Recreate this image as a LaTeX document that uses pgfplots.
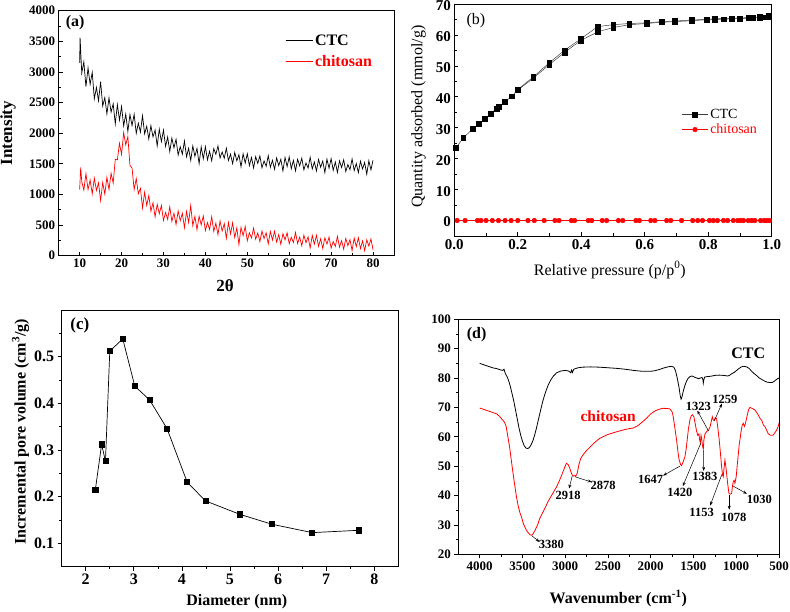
\documentclass[border=0pt]{standalone}
\usepackage{fontspec}
\setmainfont{Liberation Serif}
\usepackage{pgfplots}
\pgfplotsset{compat=1.18}
\usetikzlibrary{arrows.meta}
\newcommand{\fs}[1]{\fontsize{#1pt}{#1pt}\selectfont}
\pgfplotsset{
  base/.style={scale only axis, anchor=south west,
    /pgf/number format/assume math mode=true,
    /pgf/number format/1000 sep={},
    scaled ticks=false,
    axis line style={line width=0.8pt},
    every tick/.style={black, line width=0.7pt},
    major tick length=4pt, minor tick length=2.5pt,
    xtick pos=bottom, ytick pos=left,
  },
}
\begin{document}
\begin{tikzpicture}
\useasboundingbox (0pt,0pt) rectangle (790pt,612pt);
% ---------------- (a)
\begin{axis}[base, at={(58.7pt,356.3pt)}, width=335.3pt, height=245pt,
 xmin=5,xmax=85,ymin=0,ymax=4000,
 xtick={10,20,...,80}, minor x tick num=1,
 ytick={0,500,...,4000}, minor y tick num=1,
 tick align=inside,
 tick label style={font=\bfseries\fs{13}},
 xlabel={2θ}, ylabel={Intensity},
 label style={font=\bfseries\fs{17}},
 xlabel style={at={(axis description cs:0.496,-0.122)},anchor=center},
 ylabel style={at={(axis description cs:-0.151,0.5)},anchor=center},
 legend style={draw=none, fill=none, at={(0.675,0.912)}, anchor=north west, font=\bfseries\fs{16}, row sep=5pt, inner sep=0pt},
 legend cell align=left,
 legend image code/.code={\draw[#1, line width=0.8pt] (0pt,0pt) -- (27pt,0pt);},
]
\addplot[black, line width=0.7pt] coordinates {(10,3150) (10.1,3560) (10.5,2982) (11,3165) (11.5,2759) (12,3067) (12.5,2797) (13,2994) (13.5,2561) (14,2747) (14.5,2529) (15,2841) (15.5,2444) (16,2581) (16.5,2315) (17,2577) (17.5,2344) (18,2479) (18.5,2152) (19,2468) (19.5,2212) (20,2435) (20.5,2118) (21,2312) (21.5,2028) (22,2305) (22.5,2125) (23,2308) (23.5,1996) (24,2163) (24.5,2019) (25,2286) (25.5,1990) (26,2114) (26.5,1905) (27,2123) (27.5,1939) (28,2051) (28.5,1793) (29,2064) (29.5,1862) (30,2050) (30.5,1785) (31,1937) (31.5,1700) (32,1919) (32.5,1762) (33,1901) (33.5,1643) (34,1780) (34.5,1657) (35,1873) (35.5,1615) (36,1752) (36.5,1555) (37,1791) (37.5,1622) (38,1751) (38.5,1501) (39,1777) (39.5,1582) (40,1780) (40.5,1564) (41,1707) (41.5,1549) (42,1748) (42.5,1656) (43,1792) (43.5,1595) (44,1693) (44.5,1592) (45,1755) (45.5,1554) (46,1658) (46.5,1503) (47,1684) (47.5,1550) (48,1648) (48.5,1452) (49,1664) (49.5,1512) (50,1665) (50.5,1471) (51,1604) (51.5,1431) (52,1617) (52.5,1507) (53,1630) (53.5,1435) (54,1547) (54.5,1459) (55,1634) (55.5,1443) (56,1558) (56.5,1410) (57,1597) (57.5,1470) (58,1574) (58.5,1384) (59,1604) (59.5,1455) (60,1612) (60.5,1421) (61,1557) (61.5,1386) (62,1574) (62.5,1467) (63,1592) (63.5,1401) (64,1515) (64.5,1430) (65,1607) (65.5,1416) (66,1531) (66.5,1383) (67,1571) (67.5,1443) (68,1547) (68.5,1357) (69,1577) (69.5,1428) (70,1585) (70.5,1394) (71,1530) (71.5,1359) (72,1548) (72.5,1440) (73,1565) (73.5,1374) (74,1488) (74.5,1403) (75,1580) (75.5,1389) (76,1504) (76.5,1356) (77,1544) (77.5,1417) (78,1520) (78.5,1330) (79,1550) (79.5,1401) (80,1558)};
\addlegendentry{CTC}
\addplot[red, line width=0.7pt] coordinates {(10,1080) (10.25,1440) (10.5,1210) (11,1070) (11.5,1340) (12,1080) (12.5,1235) (13,1010) (13.5,1265) (14,1065) (14.5,1190) (15,900) (15.5,1195) (16,1005) (16.5,1280) (17,1080) (17.5,1345) (18,1185) (18.5,1575) (19,1565) (19.5,1835) (20,1655) (20.5,2010) (21,1810) (21.5,1945) (22,1475) (22.5,1430) (23,1080) (23.5,1260) (24,1010) (24.5,1100) (25,780) (25.5,1035) (26,821) (26.5,983) (27,726) (27.5,864) (28,634) (28.5,840) (29,686) (29.5,820) (30,575) (30.5,706) (31,593) (31.5,801) (32,560) (32.5,694) (33,509) (33.5,732) (34,571) (34.5,692) (35,457) (35.5,722) (36,541) (36.5,820) (37,488) (37.5,642) (38,425) (38.5,645) (39,504) (39.5,648) (40,410) (40.5,541) (41,428) (41.5,637) (42,398) (42.5,531) (43,345) (43.5,566) (44,404) (44.5,523) (45,284) (45.5,543) (46,355) (46.5,538) (47,298) (47.5,455) (48,180) (48.5,464) (49,327) (49.5,477) (50,243) (50.5,373) (51,289) (51.5,451) (52,269) (52.5,372) (53,230) (53.5,401) (54,280) (54.5,373) (55,193) (55.5,395) (56,256) (56.5,400) (57,221) (57.5,345) (58,186) (58.5,360) (59,258) (59.5,374) (60,195) (60.5,299) (61,216) (61.5,379) (62,199) (62.5,303) (63,162) (63.5,334) (64,213) (64.5,308) (65,128) (65.5,330) (66,189) (66.5,333) (67,154) (67.5,277) (68,117) (68.5,291) (69,188) (69.5,303) (70,124) (70.5,231) (71,151) (71.5,317) (72,139) (72.5,246) (73,107) (73.5,282) (74,164) (74.5,261) (75,84) (75.5,287) (76,149) (76.5,294) (77,116) (77.5,242) (78,83) (78.5,259) (79,158) (79.5,274) (80,97)};
\addlegendentry{\textcolor{red}{chitosan}}
\node[font=\bfseries\fs{16}] at (axis description cs:0.049,0.951) {(a)};
\end{axis}
% ---------------- (b)
\begin{axis}[base, at={(454.3pt,376pt)}, width=317.4pt, height=232pt,
 xmin=0,xmax=1,ymin=-5,ymax=70,
 xtick={0,0.2,0.4,0.6,0.8,1}, minor x tick num=1,
 ytick={0,10,...,70}, minor y tick num=1,
 tick align=inside,
 tick label style={font=\bfseries\fs{15}},
 yticklabel style={yshift=-1.5pt},
 xticklabel style={/pgf/number format/.cd, fixed, fixed zerofill, precision=1},
 xlabel={Relative pressure (p/p\textsuperscript{0})}, ylabel={Quantity adsorbed (mmol/g)},
 label style={font=\fs{16}},
 xlabel style={at={(axis description cs:0.49,-0.147)},anchor=center},
 ylabel style={at={(axis description cs:-0.113,0.514)},anchor=center},
 legend style={draw=none, fill=none, at={(0.716,0.556)}, anchor=north west, font=\fs{14}, row sep=0pt, inner sep=0pt},
 legend cell align=left,
 legend image code/.code={\draw[mark repeat=2,mark phase=2,#1] plot coordinates {(0pt,0pt) (13pt,0pt) (26pt,0pt)};},
]
\addplot[black!75, line width=0.5pt, mark=square*, mark size=2.4pt, mark options={black, fill=black}] coordinates {(0.005,23.4) (0.028,26.7) (0.058,29.6) (0.078,31.3) (0.097,33.0) (0.114,34.5) (0.133,36.2) (0.141,36.9) (0.16,38.4) (0.181,40.2) (0.199,42.1) (0.249,46.0) (0.299,50.4) (0.347,54.3) (0.398,58.2) (0.452,61.0) (0.501,62.4) (0.551,63.3) (0.606,63.7) (0.653,64.1) (0.695,64.3) (0.748,64.6) (0.795,64.9) (0.821,65.0) (0.848,65.1) (0.874,65.2) (0.9,65.3) (0.926,65.4) (0.942,65.5) (0.963,65.6) (0.979,65.7) (0.99,66.0)};
\addlegendentry{CTC}
\addplot[black!75, line width=0.5pt, mark=square*, mark size=2.4pt, mark options={black, fill=black}, forget plot] coordinates {(0.99,66.2) (0.963,65.8) (0.926,65.6) (0.874,65.4) (0.821,65.2) (0.748,64.8) (0.695,64.5) (0.653,64.3) (0.606,63.9) (0.551,63.7) (0.501,63.3) (0.452,62.7) (0.398,58.7) (0.347,55.0) (0.299,51.0) (0.249,46.4) (0.199,42.3)};
\addplot[red, line width=0.5pt, mark=*, mark size=2.3pt, mark options={red, fill=red}] coordinates {(0.009,0) (0.034,0) (0.073,0) (0.084,0) (0.1,0) (0.12,0) (0.139,0) (0.16,0) (0.179,0) (0.2,0) (0.232,0) (0.252,0) (0.283,0) (0.317,0) (0.33,0) (0.369,0) (0.379,0) (0.422,0) (0.433,0) (0.466,0) (0.48,0) (0.517,0) (0.531,0) (0.572,0) (0.583,0) (0.619,0) (0.632,0) (0.669,0) (0.682,0) (0.716,0) (0.751,0) (0.767,0) (0.782,0) (0.804,0) (0.816,0) (0.829,0) (0.848,0) (0.861,0) (0.879,0) (0.893,0) (0.902,0) (0.911,0) (0.926,0) (0.937,0) (0.947,0) (0.965,0) (0.976,0) (0.984,0) (0.993,0)};
\addlegendentry{\textcolor{red}{chitosan}}
\node[font=\fs{16}] at (axis description cs:0.068,0.928) {(b)};
\end{axis}
% ---------------- (c)
\begin{axis}[base, at={(61.7pt,45.3pt)}, width=336.6pt, height=256.7pt,
 xmin=1.5,xmax=8.5,ymin=0.05,ymax=0.6,
 xtick={2,3,4,5,6,7,8}, minor xtick={2.5,3.5,4.5,5.5,6.5,7.5},
 ytick={0.1,0.2,0.3,0.4,0.5}, minor ytick={0.15,0.25,0.35,0.45,0.55},
 tick align=outside,
 tick label style={font=\bfseries\fs{16}},
 yticklabel style={/pgf/number format/.cd, fixed, fixed zerofill, precision=1},
 xlabel={Diameter (nm)}, ylabel={Incremental pore volume (cm\textsuperscript{3}/g)},
 label style={font=\bfseries\fs{16}},
 xlabel style={at={(axis description cs:0.52,-0.136)},anchor=center},
 ylabel style={at={(axis description cs:-0.122,0.526)},anchor=center},
]
\addplot[black, line width=0.7pt, mark=square*, mark size=2.6pt, mark options={black, fill=black}] coordinates {(2.2,0.215) (2.33,0.312) (2.41,0.276) (2.5,0.512) (2.77,0.538) (3.02,0.437) (3.33,0.407) (3.69,0.346) (4.11,0.231) (4.49,0.191) (5.21,0.162) (5.87,0.141) (6.71,0.123) (7.68,0.128)};
\node[font=\bfseries\fs{17}] at (axis description cs:0.054,0.938) {(c)};
\end{axis}
% ---------------- (d)
\begin{axis}[base, at={(458.3pt,57.7pt)}, width=320.7pt, height=235pt,
 x dir=reverse, xmin=500,xmax=4250,ymin=20,ymax=100,
 xtick={500,1000,...,4000}, minor xtick={750,1250,1750,2250,2750,3250,3750},
 ytick={20,30,...,100}, minor y tick num=1,
 tick align=outside,
 tick label style={font=\bfseries\fs{13}},
 xlabel={Wavenumber (cm\textsuperscript{-1})},
 label style={font=\bfseries\fs{16}},
 xlabel style={at={(axis description cs:0.499,-0.187)},anchor=center},
]
\addplot[black, line width=0.8pt] coordinates {(4000,85.0) (3950,84.5) (3900,84.0) (3850,83.5) (3800,83.2) (3760,82.8) (3730,82.6) (3715,83.0) (3700,81.5) (3680,80.5) (3660,79.0) (3640,77.0) (3620,74.5) (3600,72.0) (3580,69.0) (3560,66.0) (3540,63.0) (3520,60.5) (3500,58.5) (3480,57.0) (3460,56.2) (3440,56.0) (3420,56.3) (3400,57.2) (3380,58.5) (3360,60.3) (3340,62.5) (3320,65.0) (3300,67.5) (3280,70.0) (3260,72.3) (3240,74.3) (3220,76.0) (3200,77.5) (3170,79.3) (3140,80.6) (3100,81.8) (3050,82.4) (3000,82.6) (2960,82.4) (2935,81.8) (2925,82.7) (2915,81.9) (2900,83.0) (2850,83.5) (2800,83.7) (2700,83.8) (2600,83.7) (2500,83.5) (2400,83.3) (2300,83.0) (2200,82.6) (2100,82.3) (2000,82.3) (1950,82.5) (1900,82.9) (1850,83.4) (1800,83.8) (1760,84.0) (1730,83.7) (1710,82.5) (1690,80.0) (1670,77.0) (1655,74.0) (1645,72.8) (1635,73.5) (1620,75.5) (1600,77.5) (1580,79.0) (1560,80.0) (1540,80.5) (1520,80.7) (1500,80.5) (1480,80.2) (1460,80.0) (1440,79.8) (1420,80.0) (1400,80.2) (1390,79.5) (1385,78.3) (1378,79.5) (1370,80.3) (1340,80.5) (1300,80.6) (1250,80.9) (1200,81.0) (1150,80.9) (1100,80.7) (1080,80.9) (1050,81.5) (1020,82.0) (1000,82.5) (970,83.2) (940,83.8) (910,84.0) (880,83.8) (850,83.3) (820,82.3) (790,81.5) (760,80.8) (730,80.0) (700,79.5) (670,79.0) (640,78.6) (610,78.5) (580,78.5) (560,78.8) (540,79.3) (520,79.7) (500,80.0)};
\addplot[red, line width=0.8pt] coordinates {(4000,69.8) (3960,69.4) (3920,69.0) (3880,68.6) (3840,68.2) (3800,67.8) (3770,67.0) (3740,66.0) (3710,65.0) (3690,63.5) (3670,60.0) (3650,56.5) (3630,52.0) (3610,47.6) (3590,43.5) (3570,39.6) (3550,36.5) (3530,34.2) (3510,32.6) (3490,30.5) (3470,29.2) (3450,28.0) (3430,27.3) (3410,26.6) (3390,26.5) (3370,27.2) (3350,28.3) (3320,30.2) (3300,32.0) (3270,33.8) (3240,35.5) (3200,38.0) (3150,40.5) (3100,43.0) (3064,45.3) (3030,47.8) (3000,50.0) (2985,51.0) (2965,50.5) (2945,49.2) (2930,47.8) (2918,47.0) (2900,46.6) (2888,46.8) (2878,46.5) (2860,47.5) (2840,50.5) (2820,52.5) (2800,53.5) (2760,55.0) (2700,56.8) (2650,58.2) (2595,59.5) (2500,60.8) (2400,61.7) (2300,62.5) (2205,63.0) (2150,63.8) (2100,65.0) (2050,66.3) (2000,67.8) (1950,68.8) (1900,69.4) (1854,69.7) (1800,69.6) (1776,69.5) (1750,68.5) (1737,66.9) (1720,63.5) (1698,59.0) (1680,54.5) (1667,52.0) (1650,50.5) (1640,50.2) (1620,51.5) (1600,53.2) (1585,56.0) (1573,59.0) (1560,62.5) (1542,65.7) (1525,67.2) (1510,67.5) (1495,66.8) (1480,64.5) (1464,62.0) (1450,60.5) (1437,61.0) (1428,59.0) (1420,57.9) (1412,60.5) (1405,59.5) (1395,57.0) (1385,55.8) (1378,59.0) (1365,61.0) (1345,61.8) (1323,62.3) (1305,63.5) (1290,65.5) (1280,66.8) (1270,65.8) (1259,65.5) (1245,66.5) (1230,66.2) (1215,63.0) (1199,58.9) (1185,54.5) (1171,49.8) (1160,47.0) (1152,46.4) (1142,49.5) (1132,52.1) (1122,50.0) (1113,47.6) (1100,44.0) (1085,40.7) (1070,40.5) (1054,40.7) (1045,43.0) (1035,44.7) (1025,45.2) (1015,44.2) (1000,46.5) (990,49.8) (976,54.0) (965,57.5) (957,58.9) (945,61.5) (930,64.0) (918,64.6) (905,63.5) (898,64.0) (885,65.5) (870,67.5) (855,69.3) (840,70.0) (810,69.6) (781,69.1) (750,67.8) (722,66.3) (700,65.5) (683,64.0) (665,63.5) (645,62.3) (625,61.0) (606,60.6) (585,60.5) (567,60.6) (545,61.5) (527,62.3) (510,63.5) (500,64.6)};
\node[font=\bfseries\fs{16}] at (axis description cs:0.057,0.933) {(d)};
\node[font=\bfseries\fs{16}] at (axis cs:859,88.6) {CTC};
\node[font=\bfseries\fs{15.5}, text=red] at (axis cs:2498,66.9) {chitosan};
\begin{scope}[font=\bfseries\fs{12.5}, every path/.style={line width=0.5pt, -{Stealth[length=4pt,width=3pt]}}]
\node at (axis cs:3161,23.2) {3380};
\draw (axis cs:3390,26.3) -- (axis cs:3300,24.2);
\node at (axis cs:2966,40.2) {2918};
\draw (axis cs:2918,46.6) -- (axis cs:2955,42.4);
\node at (axis cs:2556,43.4) {2878};
\draw (axis cs:2878,46.3) -- (axis cs:2690,44.6);
\node at (axis cs:2002,45.6) {1647};
\draw (axis cs:1660,50.0) -- (axis cs:1855,46.8);
\node at (axis cs:1659,41.0) {1420};
\draw (axis cs:1415,57.8) -- (axis cs:1625,43.2);
\node at (axis cs:1366,46.4) {1383};
\draw (axis cs:1383,55.3) -- (axis cs:1380,48.4);
\node at (axis cs:1444,70.5) {1323};
\draw (axis cs:1325,62.0) -- (axis cs:1455,68.9);
\node at (axis cs:1132,72.8) {1259};
\draw (axis cs:1255,65.5) -- (axis cs:1168,71.3);
\node at (axis cs:1405,34.2) {1153};
\draw (axis cs:1168,47.2) -- (axis cs:1305,36.6);
\node at (axis cs:1027,32.7) {1078};
\draw (axis cs:1082,40.2) -- (axis cs:1082,35.2);
\node at (axis cs:730,38.8) {1030};
\draw (axis cs:1035,43.2) -- (axis cs:875,40.6);
\end{scope}
\end{axis}
\end{tikzpicture}
\end{document}
